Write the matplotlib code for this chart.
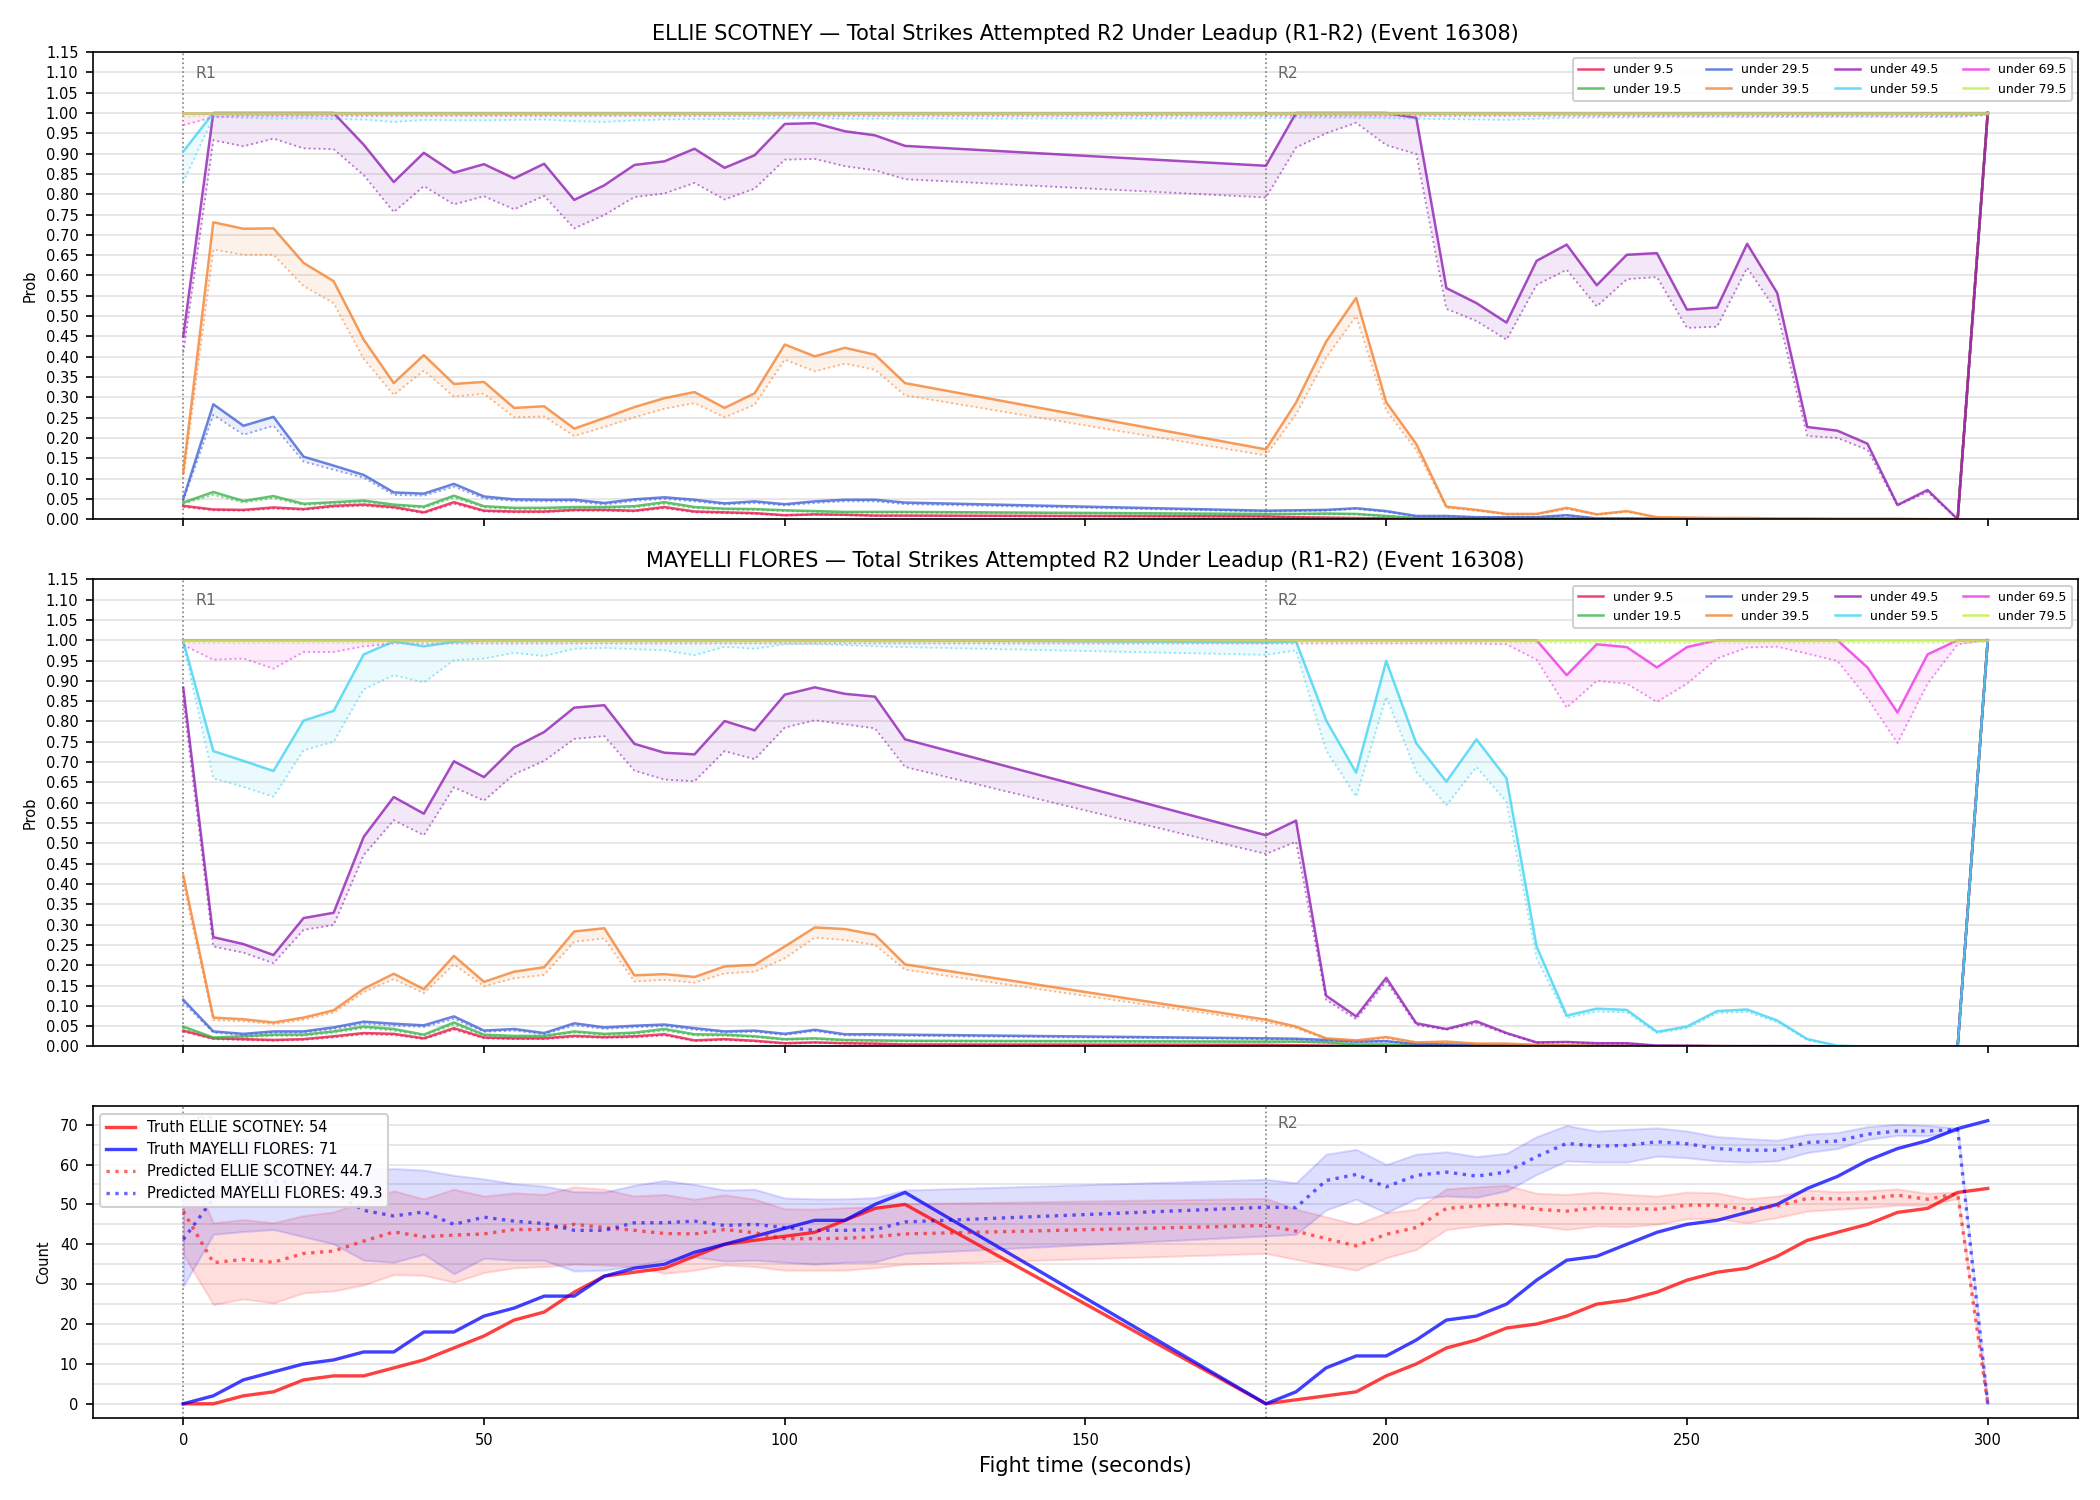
import matplotlib
matplotlib.use("Agg")
import matplotlib.pyplot as plt
from matplotlib.ticker import MultipleLocator, FormatStrFormatter

# ---------------- data ----------------
T = [0, 5, 10, 15, 20, 25, 30, 35, 40, 45, 50, 55, 60, 65, 70, 75, 80, 85, 90, 95, 100, 105, 110, 115, 120,
     180, 185, 190, 195, 200, 205, 210, 215, 220, 225, 230, 235, 240, 245, 250, 255, 260, 265, 270, 275, 280, 285, 290, 295, 300]

LABELS = ["under 9.5", "under 19.5", "under 29.5", "under 39.5",
          "under 49.5", "under 59.5", "under 69.5", "under 79.5"]
COLORS = ["#e6194b", "#3cb44b", "#4363d8", "#f58231",
          "#911eb4", "#42d4f4", "#f032e6", "#bfef45"]

# ELLIE SCOTNEY - solid (upper) and dotted (lower) probability curves
E_U9 = [0.033, 0.024, 0.023, 0.029, 0.025, 0.033, 0.036, 0.030, 0.017, 0.042, 0.021, 0.019, 0.019, 0.023, 0.023, 0.021, 0.030, 0.019, 0.017, 0.015, 0.010, 0.012, 0.011, 0.009, 0.009,
        0.007, 0.005, 0.004, 0.003, 0.002, 0.001, 0.001, 0.001, 0.001, 0.001, 0.001, 0.0, 0.0, 0.0, 0.0, 0.0, 0.0, 0.0, 0.0, 0.0, 0.0, 0.0, 0.0, 0.0, 1.0]
E_U9q = [0.030, 0.022, 0.021, 0.026, 0.023, 0.030, 0.033, 0.027, 0.015, 0.038, 0.019, 0.017, 0.017, 0.021, 0.021, 0.019, 0.027, 0.017, 0.015, 0.013, 0.009, 0.011, 0.010, 0.008, 0.008,
         0.006, 0.004, 0.003, 0.002, 0.002, 0.001, 0.001, 0.001, 0.001, 0.001, 0.001, 0.0, 0.0, 0.0, 0.0, 0.0, 0.0, 0.0, 0.0, 0.0, 0.0, 0.0, 0.0, 0.0, 1.0]
E_U19 = [0.041, 0.067, 0.045, 0.057, 0.038, 0.042, 0.046, 0.036, 0.031, 0.058, 0.032, 0.028, 0.028, 0.030, 0.030, 0.032, 0.042, 0.030, 0.026, 0.025, 0.022, 0.020, 0.018, 0.018, 0.018,
         0.013, 0.013, 0.014, 0.013, 0.008, 0.003, 0.002, 0.002, 0.002, 0.002, 0.002, 0.001, 0.001, 0.001, 0.0, 0.0, 0.0, 0.0, 0.0, 0.0, 0.0, 0.0, 0.0, 0.0, 1.0]
E_U19q = [0.038, 0.060, 0.041, 0.052, 0.035, 0.038, 0.042, 0.033, 0.028, 0.053, 0.029, 0.025, 0.025, 0.027, 0.027, 0.029, 0.038, 0.027, 0.024, 0.023, 0.020, 0.018, 0.016, 0.016, 0.016,
          0.012, 0.012, 0.012, 0.012, 0.007, 0.003, 0.002, 0.002, 0.002, 0.002, 0.002, 0.001, 0.001, 0.001, 0.0, 0.0, 0.0, 0.0, 0.0, 0.0, 0.0, 0.0, 0.0, 0.0, 1.0]
E_U29 = [0.050, 0.283, 0.230, 0.252, 0.154, 0.132, 0.109, 0.066, 0.063, 0.087, 0.056, 0.049, 0.048, 0.048, 0.040, 0.049, 0.054, 0.048, 0.039, 0.044, 0.037, 0.044, 0.048, 0.048, 0.041,
         0.021, 0.022, 0.023, 0.027, 0.020, 0.008, 0.008, 0.005, 0.005, 0.005, 0.010, 0.002, 0.002, 0.001, 0.001, 0.0, 0.0, 0.0, 0.0, 0.0, 0.0, 0.0, 0.0, 0.0, 1.0]
E_U29q = [0.046, 0.257, 0.208, 0.230, 0.142, 0.122, 0.102, 0.060, 0.058, 0.080, 0.051, 0.045, 0.044, 0.044, 0.036, 0.045, 0.050, 0.044, 0.036, 0.040, 0.034, 0.040, 0.044, 0.044, 0.037,
          0.019, 0.020, 0.021, 0.025, 0.018, 0.007, 0.007, 0.005, 0.005, 0.005, 0.009, 0.002, 0.002, 0.001, 0.001, 0.0, 0.0, 0.0, 0.0, 0.0, 0.0, 0.0, 0.0, 0.0, 1.0]
E_U39 = [0.116, 0.731, 0.715, 0.716, 0.631, 0.586, 0.442, 0.335, 0.404, 0.333, 0.338, 0.274, 0.278, 0.223, 0.249, 0.276, 0.298, 0.313, 0.274, 0.310, 0.430, 0.401, 0.422, 0.405, 0.335,
         0.172, 0.287, 0.437, 0.545, 0.288, 0.185, 0.031, 0.023, 0.013, 0.013, 0.028, 0.012, 0.020, 0.005, 0.004, 0.003, 0.003, 0.002, 0.002, 0.001, 0.001, 0.001, 0.0, 0.0, 1.0]
E_U39q = [0.100, 0.664, 0.651, 0.651, 0.574, 0.532, 0.395, 0.306, 0.366, 0.302, 0.309, 0.251, 0.253, 0.205, 0.227, 0.251, 0.272, 0.286, 0.251, 0.282, 0.393, 0.364, 0.383, 0.368, 0.305,
          0.157, 0.258, 0.398, 0.500, 0.268, 0.170, 0.028, 0.021, 0.012, 0.012, 0.025, 0.011, 0.018, 0.004, 0.003, 0.002, 0.002, 0.002, 0.001, 0.001, 0.001, 0.0, 0.0, 0.0, 1.0]
E_U49 = [0.450, 1.0, 1.0, 1.0, 1.0, 1.0, 0.922, 0.830, 0.902, 0.853, 0.874, 0.839, 0.875, 0.786, 0.822, 0.872, 0.881, 0.912, 0.865, 0.896, 0.973, 0.975, 0.955, 0.945, 0.919,
         0.870, 1.0, 1.0, 1.0, 1.0, 0.988, 0.569, 0.532, 0.484, 0.636, 0.676, 0.576, 0.651, 0.655, 0.516, 0.521, 0.678, 0.557, 0.227, 0.218, 0.186, 0.035, 0.072, 0.0, 1.0]
E_U49q = [0.410, 0.933, 0.918, 0.937, 0.913, 0.911, 0.847, 0.756, 0.820, 0.775, 0.795, 0.763, 0.796, 0.716, 0.749, 0.793, 0.802, 0.828, 0.787, 0.814, 0.885, 0.887, 0.869, 0.859, 0.837,
          0.792, 0.915, 0.950, 0.976, 0.921, 0.899, 0.518, 0.488, 0.442, 0.577, 0.614, 0.524, 0.591, 0.596, 0.471, 0.474, 0.619, 0.510, 0.205, 0.200, 0.171, 0.034, 0.067, 0.0, 1.0]
E_U59 = [0.905, 1.0, 1.0, 1.0, 1.0, 1.0, 1.0, 1.0, 1.0, 1.0, 1.0, 1.0, 1.0, 1.0, 1.0, 1.0, 1.0, 1.0, 1.0, 1.0, 1.0, 1.0, 1.0, 1.0, 1.0,
         1.0, 1.0, 1.0, 1.0, 1.0, 1.0, 1.0, 1.0, 1.0, 1.0, 1.0, 1.0, 1.0, 1.0, 1.0, 1.0, 1.0, 1.0, 1.0, 1.0, 1.0, 1.0, 1.0, 1.0, 1.0]
E_U59q = [0.830, 0.990, 0.988, 0.986, 0.987, 0.985, 0.984, 0.978, 0.983, 0.982, 0.982, 0.983, 0.984, 0.980, 0.978, 0.982, 0.984, 0.985, 0.985, 0.986, 0.987, 0.987, 0.986, 0.986, 0.986,
          0.987, 0.988, 0.988, 0.988, 0.987, 0.986, 0.985, 0.984, 0.983, 0.986, 0.988, 0.989, 0.989, 0.990, 0.990, 0.990, 0.990, 0.990, 0.990, 0.990, 0.990, 0.990, 0.990, 0.990, 0.995]
E_U69 = [1.0, 1.0, 1.0, 1.0, 1.0, 1.0, 1.0, 1.0, 1.0, 1.0, 1.0, 1.0, 1.0, 1.0, 1.0, 1.0, 1.0, 1.0, 1.0, 1.0, 1.0, 1.0, 1.0, 1.0, 1.0,
         1.0, 1.0, 1.0, 1.0, 1.0, 1.0, 1.0, 1.0, 1.0, 1.0, 1.0, 1.0, 1.0, 1.0, 1.0, 1.0, 1.0, 1.0, 1.0, 1.0, 1.0, 1.0, 1.0, 1.0, 1.0]
E_U69q = [0.970, 0.990, 0.993, 0.993, 0.993, 0.993, 0.993, 0.993, 0.993, 0.993, 0.993, 0.993, 0.993, 0.993, 0.993, 0.993, 0.993, 0.993, 0.993, 0.993, 0.993, 0.993, 0.993, 0.993, 0.993,
          0.993, 0.993, 0.993, 0.993, 0.993, 0.993, 0.993, 0.993, 0.993, 0.993, 0.993, 0.993, 0.993, 0.993, 0.993, 0.993, 0.993, 0.993, 0.993, 0.993, 0.993, 0.993, 0.993, 0.993, 0.995]
E_U79 = [1.0, 1.0, 1.0, 1.0, 1.0, 1.0, 1.0, 1.0, 1.0, 1.0, 1.0, 1.0, 1.0, 1.0, 1.0, 1.0, 1.0, 1.0, 1.0, 1.0, 1.0, 1.0, 1.0, 1.0, 1.0,
         1.0, 1.0, 1.0, 1.0, 1.0, 1.0, 1.0, 1.0, 1.0, 1.0, 1.0, 1.0, 1.0, 1.0, 1.0, 1.0, 1.0, 1.0, 1.0, 1.0, 1.0, 1.0, 1.0, 1.0, 1.0]
E_U79q = [0.990, 0.995, 0.995, 0.995, 0.995, 0.995, 0.995, 0.995, 0.995, 0.995, 0.995, 0.995, 0.995, 0.995, 0.995, 0.995, 0.995, 0.995, 0.995, 0.995, 0.995, 0.995, 0.995, 0.995, 0.995,
          0.995, 0.995, 0.995, 0.995, 0.995, 0.995, 0.995, 0.995, 0.995, 0.995, 0.995, 0.995, 0.995, 0.995, 0.995, 0.995, 0.995, 0.995, 0.995, 0.995, 0.995, 0.995, 0.995, 0.995, 0.995]

# MAYELLI FLORES
M_U9 = [0.039, 0.020, 0.018, 0.016, 0.018, 0.025, 0.033, 0.031, 0.020, 0.045, 0.022, 0.020, 0.020, 0.026, 0.023, 0.025, 0.030, 0.015, 0.018, 0.014, 0.008, 0.010, 0.008, 0.007, 0.005,
        0.004, 0.003, 0.002, 0.001, 0.001, 0.001, 0.001, 0.0, 0.0, 0.0, 0.0, 0.0, 0.0, 0.0, 0.0, 0.0, 0.0, 0.0, 0.0, 0.0, 0.0, 0.0, 0.0, 0.0, 1.0]
M_U9q = [0.036, 0.018, 0.016, 0.014, 0.016, 0.022, 0.030, 0.028, 0.018, 0.041, 0.020, 0.018, 0.018, 0.023, 0.021, 0.022, 0.027, 0.013, 0.016, 0.012, 0.007, 0.009, 0.007, 0.006, 0.004,
         0.003, 0.002, 0.002, 0.001, 0.001, 0.001, 0.001, 0.0, 0.0, 0.0, 0.0, 0.0, 0.0, 0.0, 0.0, 0.0, 0.0, 0.0, 0.0, 0.0, 0.0, 0.0, 0.0, 0.0, 1.0]
M_U19 = [0.049, 0.022, 0.025, 0.029, 0.029, 0.037, 0.049, 0.043, 0.029, 0.059, 0.029, 0.026, 0.026, 0.037, 0.031, 0.034, 0.043, 0.030, 0.029, 0.025, 0.018, 0.020, 0.016, 0.015, 0.014,
         0.012, 0.012, 0.010, 0.005, 0.005, 0.002, 0.002, 0.001, 0.001, 0.001, 0.0, 0.0, 0.0, 0.0, 0.0, 0.0, 0.0, 0.0, 0.0, 0.0, 0.0, 0.0, 0.0, 0.0, 1.0]
M_U19q = [0.045, 0.020, 0.023, 0.026, 0.026, 0.034, 0.045, 0.039, 0.026, 0.054, 0.026, 0.024, 0.024, 0.034, 0.028, 0.031, 0.039, 0.027, 0.026, 0.023, 0.016, 0.018, 0.014, 0.013, 0.012,
          0.011, 0.011, 0.009, 0.004, 0.004, 0.002, 0.002, 0.001, 0.001, 0.001, 0.0, 0.0, 0.0, 0.0, 0.0, 0.0, 0.0, 0.0, 0.0, 0.0, 0.0, 0.0, 0.0, 0.0, 1.0]
M_U29 = [0.115, 0.037, 0.031, 0.037, 0.037, 0.047, 0.061, 0.056, 0.052, 0.074, 0.039, 0.043, 0.033, 0.057, 0.047, 0.051, 0.054, 0.045, 0.037, 0.039, 0.031, 0.041, 0.030, 0.030, 0.029,
         0.020, 0.019, 0.016, 0.012, 0.013, 0.006, 0.005, 0.004, 0.003, 0.002, 0.002, 0.001, 0.001, 0.001, 0.0, 0.0, 0.0, 0.0, 0.0, 0.0, 0.0, 0.0, 0.0, 0.0, 1.0]
M_U29q = [0.108, 0.034, 0.028, 0.034, 0.034, 0.043, 0.056, 0.051, 0.048, 0.068, 0.036, 0.039, 0.030, 0.052, 0.043, 0.047, 0.050, 0.041, 0.034, 0.036, 0.028, 0.038, 0.027, 0.027, 0.026,
          0.018, 0.017, 0.014, 0.011, 0.012, 0.005, 0.004, 0.003, 0.002, 0.002, 0.001, 0.001, 0.001, 0.0, 0.0, 0.0, 0.0, 0.0, 0.0, 0.0, 0.0, 0.0, 0.0, 0.0, 1.0]
M_U39 = [0.421, 0.071, 0.067, 0.059, 0.071, 0.089, 0.142, 0.179, 0.141, 0.223, 0.159, 0.184, 0.195, 0.283, 0.291, 0.175, 0.178, 0.171, 0.197, 0.201, 0.246, 0.293, 0.289, 0.275, 0.202,
         0.066, 0.049, 0.020, 0.015, 0.023, 0.010, 0.012, 0.007, 0.007, 0.004, 0.003, 0.002, 0.002, 0.001, 0.001, 0.001, 0.0, 0.0, 0.0, 0.0, 0.0, 0.0, 0.0, 0.0, 1.0]
M_U39q = [0.400, 0.065, 0.062, 0.055, 0.066, 0.083, 0.134, 0.166, 0.131, 0.202, 0.148, 0.168, 0.176, 0.258, 0.266, 0.160, 0.164, 0.157, 0.180, 0.184, 0.217, 0.268, 0.262, 0.250, 0.189,
          0.060, 0.045, 0.018, 0.013, 0.020, 0.009, 0.011, 0.006, 0.006, 0.004, 0.003, 0.002, 0.002, 0.001, 0.001, 0.001, 0.0, 0.0, 0.0, 0.0, 0.0, 0.0, 0.0, 0.0, 1.0]
M_U49 = [0.883, 0.269, 0.252, 0.225, 0.316, 0.329, 0.516, 0.614, 0.573, 0.702, 0.663, 0.736, 0.774, 0.834, 0.840, 0.745, 0.723, 0.719, 0.801, 0.778, 0.866, 0.884, 0.868, 0.861, 0.756,
         0.520, 0.556, 0.125, 0.074, 0.169, 0.057, 0.043, 0.062, 0.033, 0.010, 0.011, 0.008, 0.008, 0.002, 0.002, 0.001, 0.001, 0.001, 0.001, 0.0, 0.0, 0.0, 0.0, 0.0, 1.0]
M_U49q = [0.850, 0.246, 0.231, 0.205, 0.287, 0.299, 0.471, 0.557, 0.520, 0.638, 0.605, 0.670, 0.703, 0.757, 0.764, 0.679, 0.657, 0.653, 0.727, 0.707, 0.785, 0.803, 0.793, 0.783, 0.688,
          0.474, 0.504, 0.115, 0.067, 0.160, 0.053, 0.041, 0.057, 0.031, 0.009, 0.010, 0.007, 0.007, 0.002, 0.002, 0.001, 0.001, 0.001, 0.001, 0.0, 0.0, 0.0, 0.0, 0.0, 1.0]
M_U59 = [0.998, 0.727, 0.703, 0.678, 0.802, 0.826, 0.965, 0.997, 0.985, 0.996, 1.0, 1.0, 1.0, 1.0, 1.0, 1.0, 1.0, 1.0, 1.0, 1.0, 1.0, 1.0, 1.0, 1.0, 1.0,
         0.995, 0.997, 0.803, 0.674, 0.949, 0.746, 0.652, 0.756, 0.660, 0.246, 0.076, 0.093, 0.090, 0.036, 0.049, 0.087, 0.091, 0.064, 0.018, 0.002, 0.0, 0.0, 0.0, 0.0, 1.0]
M_U59q = [0.990, 0.660, 0.639, 0.615, 0.729, 0.750, 0.879, 0.914, 0.896, 0.951, 0.955, 0.969, 0.961, 0.979, 0.981, 0.978, 0.975, 0.963, 0.984, 0.979, 0.990, 0.990, 0.988, 0.985, 0.983,
          0.964, 0.975, 0.729, 0.615, 0.861, 0.676, 0.594, 0.688, 0.602, 0.217, 0.070, 0.086, 0.084, 0.033, 0.045, 0.082, 0.085, 0.060, 0.016, 0.001, 0.0, 0.0, 0.0, 0.0, 1.0]
M_U69 = [1.0, 1.0, 1.0, 1.0, 1.0, 1.0, 1.0, 1.0, 1.0, 1.0, 1.0, 1.0, 1.0, 1.0, 1.0, 1.0, 1.0, 1.0, 1.0, 1.0, 1.0, 1.0, 1.0, 1.0, 1.0,
         1.0, 1.0, 1.0, 1.0, 1.0, 1.0, 1.0, 1.0, 1.0, 1.0, 0.914, 0.990, 0.983, 0.933, 0.983, 1.0, 1.0, 1.0, 1.0, 1.0, 0.933, 0.822, 0.965, 1.0, 1.0]
M_U69q = [0.988, 0.952, 0.955, 0.930, 0.971, 0.971, 0.985, 0.992, 0.992, 0.992, 0.992, 0.992, 0.992, 0.992, 0.992, 0.992, 0.992, 0.992, 0.992, 0.992, 0.992, 0.992, 0.992, 0.992, 0.992,
          0.992, 0.992, 0.992, 0.992, 0.992, 0.992, 0.992, 0.992, 0.990, 0.952, 0.834, 0.900, 0.893, 0.848, 0.893, 0.955, 0.982, 0.984, 0.967, 0.949, 0.857, 0.747, 0.893, 0.990, 1.0]
M_U79 = [1.0, 1.0, 1.0, 1.0, 1.0, 1.0, 1.0, 1.0, 1.0, 1.0, 1.0, 1.0, 1.0, 1.0, 1.0, 1.0, 1.0, 1.0, 1.0, 1.0, 1.0, 1.0, 1.0, 1.0, 1.0,
         1.0, 1.0, 1.0, 1.0, 1.0, 1.0, 1.0, 1.0, 1.0, 1.0, 1.0, 1.0, 1.0, 1.0, 1.0, 1.0, 1.0, 1.0, 1.0, 1.0, 1.0, 1.0, 1.0, 1.0, 1.0]
M_U79q = [0.993, 0.993, 0.993, 0.993, 0.993, 0.993, 0.993, 0.993, 0.993, 0.993, 0.993, 0.993, 0.993, 0.993, 0.993, 0.993, 0.993, 0.993, 0.993, 0.993, 0.993, 0.993, 0.993, 0.993, 0.993,
          0.993, 0.993, 0.993, 0.993, 0.993, 0.993, 0.993, 0.993, 0.993, 0.993, 0.993, 0.993, 0.993, 0.993, 0.993, 0.993, 0.993, 0.993, 0.993, 0.993, 0.993, 0.993, 0.993, 0.993, 0.995]

# Counts panel
TRUTH_E = [0, 0, 2, 3, 6, 7, 7, 9, 11, 14, 17, 21, 23, 28, 32, 33, 34, 37, 40, 41, 42, 43, 46, 49, 50,
           0, 1, 2, 3, 7, 10, 14, 16, 19, 20, 22, 25, 26, 28, 31, 33, 34, 37, 41, 43, 45, 48, 49, 53, 54]
TRUTH_M = [0, 2, 6, 8, 10, 11, 13, 13, 18, 18, 22, 24, 27, 27, 32, 34, 35, 38, 40, 42, 44, 46, 46, 50, 53,
           0, 3, 9, 12, 12, 16, 21, 22, 25, 31, 36, 37, 40, 43, 45, 46, 48, 50, 54, 57, 61, 64, 66, 69, 71]
PRED_E = [48.3, 35.4, 36.2, 35.5, 37.7, 38.3, 40.8, 43.1, 41.9, 42.3, 42.6, 43.7, 43.7, 45.0, 44.2, 43.5, 42.7, 42.6, 43.7, 42.9, 41.4, 41.4, 41.5, 41.9, 42.6,
          44.7, 43.3, 41.4, 39.6, 42.5, 44.2, 49.0, 49.6, 50.0, 48.8, 48.3, 49.2, 48.9, 48.8, 49.8, 49.8, 48.8, 49.6, 51.5, 51.4, 51.4, 52.3, 51.3, 52.7, 0.0]
PRED_M = [41.2, 51.5, 54.8, 55.8, 55.5, 53.0, 48.5, 47.1, 48.1, 45.0, 46.8, 45.8, 45.2, 43.5, 43.5, 45.4, 45.4, 45.8, 44.7, 45.0, 44.2, 43.5, 43.5, 43.7, 45.6,
          49.3, 49.2, 56.0, 57.5, 54.4, 57.3, 58.1, 57.1, 58.1, 62.0, 65.3, 64.6, 64.8, 65.7, 65.2, 64.0, 63.6, 63.6, 65.5, 65.9, 67.6, 68.4, 68.4, 68.8, 0.0]
BAND_E_LO = [37.5, 24.9, 26.3, 25.3, 27.8, 28.3, 29.8, 32.4, 32.2, 30.5, 32.9, 34.1, 34.4, 35.0, 34.8, 34.4, 32.7, 33.5, 34.8, 34.4, 33.5, 33.5, 33.5, 34.1, 35.0,
             37.7, 36.2, 34.8, 33.5, 36.6, 38.7, 43.7, 44.6, 45.2, 44.6, 43.7, 44.6, 44.4, 45.0, 46.4, 46.4, 45.4, 46.7, 48.3, 48.8, 49.2, 49.8, 49.8, 51.4, 0.0]
BAND_E_HI = [62.5, 45.4, 46.2, 45.4, 47.2, 48.1, 50.8, 53.4, 51.4, 53.8, 52.1, 52.9, 52.5, 54.4, 53.8, 52.1, 52.5, 51.3, 52.4, 51.3, 48.9, 48.8, 49.2, 49.4, 50.2,
             51.5, 48.8, 46.9, 45.0, 47.9, 48.8, 53.9, 54.4, 54.8, 52.8, 52.5, 53.1, 52.5, 52.1, 53.1, 52.9, 51.4, 52.1, 53.6, 53.2, 53.4, 53.9, 52.8, 53.1, 0.0]
BAND_M_LO = [29.5, 42.5, 43.2, 43.7, 41.9, 40.1, 36.0, 35.5, 37.5, 32.6, 36.5, 36.0, 36.0, 33.3, 33.5, 34.5, 36.0, 36.8, 35.8, 36.0, 35.5, 35.0, 35.5, 35.6, 37.7,
             42.1, 42.5, 48.6, 51.3, 47.9, 51.5, 52.1, 51.8, 53.4, 57.5, 60.9, 60.6, 60.6, 62.1, 61.7, 60.9, 60.6, 60.9, 63.0, 64.0, 66.3, 67.3, 67.2, 68.4, 0.0]
BAND_M_HI = [52.0, 63.5, 66.7, 67.6, 63.0, 60.3, 58.6, 59.0, 58.6, 57.3, 56.4, 55.2, 54.6, 53.2, 53.1, 54.8, 56.0, 55.0, 53.6, 53.8, 51.6, 51.4, 51.4, 51.7, 53.6,
             56.3, 55.4, 62.6, 63.8, 60.0, 62.6, 63.2, 62.0, 62.8, 67.0, 69.8, 68.4, 68.8, 69.2, 68.4, 67.0, 66.5, 66.1, 67.6, 68.0, 69.5, 70.1, 69.8, 69.2, 0.0]

ROUND_STARTS = [0, 180]
ROUND_NAMES = ["R1", "R2"]

# ---------------- plot ----------------
plt.rcParams["font.family"] = ["DejaVu Sans"]
fig = plt.figure(figsize=(14, 10), dpi=150)
gs = fig.add_gridspec(3, 1, height_ratios=[1.5, 1.5, 1], left=0.0443, right=0.9895,
                      top=0.9653, bottom=0.0547, hspace=0.1446)
ax1 = fig.add_subplot(gs[0])
ax2 = fig.add_subplot(gs[1], sharex=ax1)
ax3 = fig.add_subplot(gs[2], sharex=ax1)


def round_marks(ax):
    for x, name in zip(ROUND_STARTS, ROUND_NAMES):
        ax.axvline(x, color="gray", ls=":", lw=0.8, zorder=1)
        ax.text(x + 2, 0.97, name, transform=ax.get_xaxis_transform(),
                ha="left", va="top", fontsize=7.5, color="#666666")


def prob_panel(ax, solids, dotteds, title):
    for lab, col, s, q in zip(LABELS, COLORS, solids, dotteds):
        ax.fill_between(T, q, s, color=col, alpha=0.1, lw=0)
        ax.plot(T, s, color=col, lw=1.2, alpha=0.8, label=lab)
        ax.plot(T, q, color=col, lw=0.9, ls=":", alpha=0.6)
    ax.set_ylim(0, 1.15)
    ax.yaxis.set_major_locator(MultipleLocator(0.05))
    ax.yaxis.set_major_formatter(FormatStrFormatter("%.2f"))
    ax.grid(axis="y", color="#e3e3e3", lw=0.8)
    ax.set_axisbelow(True)
    ax.set_ylabel("Prob", fontsize=7)
    ax.tick_params(labelsize=7)
    ax.set_title(title, fontsize=10)
    round_marks(ax)
    ax.legend(loc="upper right", ncol=4, fontsize=6, framealpha=0.9)
    plt.setp(ax.get_xticklabels(), visible=False)


prob_panel(ax1, [E_U9, E_U19, E_U29, E_U39, E_U49, E_U59, E_U69, E_U79],
           [E_U9q, E_U19q, E_U29q, E_U39q, E_U49q, E_U59q, E_U69q, E_U79q],
           "ELLIE SCOTNEY \u2014 Total Strikes Attempted R2 Under Leadup (R1-R2) (Event 16308)")
prob_panel(ax2, [M_U9, M_U19, M_U29, M_U39, M_U49, M_U59, M_U69, M_U79],
           [M_U9q, M_U19q, M_U29q, M_U39q, M_U49q, M_U59q, M_U69q, M_U79q],
           "MAYELLI FLORES \u2014 Total Strikes Attempted R2 Under Leadup (R1-R2) (Event 16308)")

# counts panel
ax3.fill_between(T, BAND_E_LO, BAND_E_HI, color="red", alpha=0.13)
ax3.fill_between(T, BAND_M_LO, BAND_M_HI, color="blue", alpha=0.13)
ax3.plot(T, TRUTH_E, color="red", lw=1.6, alpha=0.75, label="Truth ELLIE SCOTNEY: 54")
ax3.plot(T, TRUTH_M, color="blue", lw=1.6, alpha=0.75, label="Truth MAYELLI FLORES: 71")
ax3.plot(T, PRED_E, color="red", lw=1.6, ls=":", alpha=0.6, label="Predicted ELLIE SCOTNEY: 44.7")
ax3.plot(T, PRED_M, color="blue", lw=1.6, ls=":", alpha=0.6, label="Predicted MAYELLI FLORES: 49.3")
ax3.yaxis.set_major_locator(MultipleLocator(10))
ax3.yaxis.set_minor_locator(MultipleLocator(5))
ax3.tick_params(which="minor", length=0)
ax3.grid(axis="y", which="both", color="#e3e3e3", lw=0.8)
ax3.set_axisbelow(True)
ax3.tick_params(labelsize=7)
ax3.set_ylabel("Count", fontsize=7)
ax3.set_xlabel("Fight time (seconds)", fontsize=10)
round_marks(ax3)
ax3.legend(loc="upper left", fontsize=7, framealpha=0.9)

fig.savefig("out.png", dpi=150)
